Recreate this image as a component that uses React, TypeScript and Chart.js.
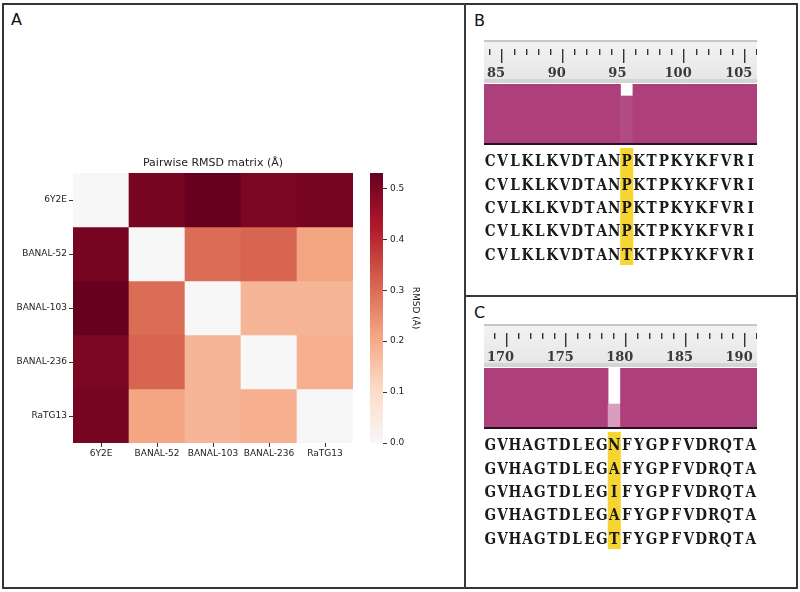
import React, { useEffect, useRef } from 'react';
import { Chart, registerables } from 'chart.js';

Chart.register(...registerables);

// ---------------- Panel A data ----------------
const structures = ['6Y2E', 'BANAL-52', 'BANAL-103', 'BANAL-236', 'RaTG13'];
const rmsd6Y2E = [0, 0.51, 0.53, 0.5, 0.51];
const rmsdBANAL52 = [0.51, 0, 0.3, 0.31, 0.21];
const rmsdBANAL103 = [0.53, 0.3, 0, 0.18, 0.18];
const rmsdBANAL236 = [0.5, 0.31, 0.18, 0, 0.19];
const rmsdRaTG13 = [0.51, 0.21, 0.18, 0.19, 0];
const rmsdRows = [rmsd6Y2E, rmsdBANAL52, rmsdBANAL103, rmsdBANAL236, rmsdRaTG13];
const colorbarMax = 0.53;
const colorbarTicks = [0, 0.1, 0.2, 0.3, 0.4, 0.5];
const heatmapTitle = 'Pairwise RMSD matrix (Å)';
const colorbarTitle = 'RMSD (Å)';

// ---------------- Panel B data ----------------
const residuesB = [85, 86, 87, 88, 89, 90, 91, 92, 93, 94, 95, 96, 97, 98, 99, 100, 101, 102, 103, 104, 105, 106];
const sequencesB = [
  'CVLKLKVDTANPKTPKYKFVRI',
  'CVLKLKVDTANPKTPKYKFVRI',
  'CVLKLKVDTANPKTPKYKFVRI',
  'CVLKLKVDTANPKTPKYKFVRI',
  'CVLKLKVDTANTKTPKYKFVRI',
];
const consensusB = [100, 100, 100, 100, 100, 100, 100, 100, 100, 100, 100, 80, 100, 100, 100, 100, 100, 100, 100, 100, 100, 100];
const highlightB = 96;

// ---------------- Panel C data ----------------
const residuesC = [170, 171, 172, 173, 174, 175, 176, 177, 178, 179, 180, 181, 182, 183, 184, 185, 186, 187, 188, 189, 190, 191];
const sequencesC = [
  'GVHAGTDLEGNFYGPFVDRQTA',
  'GVHAGTDLEGAFYGPFVDRQTA',
  'GVHAGTDLEGIFYGPFVDRQTA',
  'GVHAGTDLEGAFYGPFVDRQTA',
  'GVHAGTDLEGTFYGPFVDRQTA',
];
const consensusC = [100, 100, 100, 100, 100, 100, 100, 100, 100, 100, 40, 100, 100, 100, 100, 100, 100, 100, 100, 100, 100, 100];
const highlightC = 180;

// ---------------- styles ----------------
const SANS = '"DejaVu Sans", sans-serif';
const SERIF = '"DejaVu Serif", serif';
const TEXT = '#222222';
const rdbuStops = ['#f7f7f7', '#fddbc7', '#f4a582', '#d6604d', '#b2182b', '#67001f'];

function hexToRgb(h: string) {
  const n = parseInt(h.slice(1), 16);
  return [(n >> 16) & 255, (n >> 8) & 255, n & 255];
}
function rdbu(t: number) {
  const tt = Math.max(0, Math.min(1, t)) * (rdbuStops.length - 1);
  const i = Math.min(rdbuStops.length - 2, Math.floor(tt));
  const f = tt - i;
  const a = hexToRgb(rdbuStops[i]);
  const b = hexToRgb(rdbuStops[i + 1]);
  const c = a.map((v, k) => Math.round(v + (b[k] - v) * f));
  return `rgb(${c[0]},${c[1]},${c[2]})`;
}
function consensusColor(v: number) {
  if (v >= 100) return '#ad3f7a';
  if (v >= 60) return '#b24a83';
  return '#d89dbf';
}

const baseOpts = {
  responsive: false,
  animation: false as const,
  events: [] as any[],
};

// ---------------- chart configs ----------------
function heatmapConfig(): any {
  const datasets = rmsdRows.map((row, r) => ({
    label: structures[r],
    data: row.map(() => [r, r + 1]),
    backgroundColor: row.map((v) => rdbu(v / colorbarMax)),
    grouped: false,
    barPercentage: 1,
    categoryPercentage: 1,
    borderWidth: 0,
  }));
  return {
    type: 'bar',
    data: { labels: structures, datasets },
    options: {
      ...baseOpts,
      layout: { padding: { left: 0, right: 5, top: 0, bottom: 0 }, autoPadding: false },
      plugins: {
        legend: { display: false },
        tooltip: { enabled: false },
        title: {
          display: true,
          text: heatmapTitle,
          fullSize: false,
          color: TEXT,
          font: { family: SANS, size: 11, weight: 'normal' },
          padding: { top: 16.8, bottom: 3 },
        },
      },
      scales: {
        x: {
          type: 'category',
          offset: true,
          grid: { offset: false, drawOnChartArea: false, drawTicks: true, tickLength: 4, color: '#333' },
          border: { display: false },
          ticks: { color: TEXT, font: { family: SANS, size: 9 }, padding: 1, maxRotation: 0, autoSkip: false },
          afterFit: (s: any) => { s.height = 27; },
        },
        y: {
          type: 'linear',
          min: 0,
          max: structures.length,
          reverse: true,
          afterBuildTicks: (s: any) => { s.ticks = structures.map((_, i) => ({ value: i + 0.5 })); },
          grid: { drawOnChartArea: false, drawTicks: true, tickLength: 4, color: '#333' },
          border: { display: false },
          ticks: {
            color: TEXT,
            font: { family: SANS, size: 9 },
            padding: 2,
            autoSkip: false,
            callback: (v: any) => structures[Math.floor(Number(v))],
          },
          afterFit: (s: any) => { s.width = 65; },
        },
      },
    },
  };
}

function colorbarConfig(): any {
  return {
    type: 'bar',
    data: {
      labels: [''],
      datasets: [{
        data: [[0, colorbarMax]],
        barPercentage: 1,
        categoryPercentage: 1,
        borderWidth: 0,
        backgroundColor: (c: any) => {
          const chart = c.chart;
          if (!chart.chartArea || !chart.scales.y) return rdbuStops[0];
          const y0 = chart.scales.y.getPixelForValue(0);
          const y1 = chart.scales.y.getPixelForValue(colorbarMax);
          const g = chart.ctx.createLinearGradient(0, y0, 0, y1);
          rdbuStops.forEach((col, i) => g.addColorStop(i / (rdbuStops.length - 1), col));
          return g;
        },
      }],
    },
    options: {
      ...baseOpts,
      layout: { padding: { left: 10, right: 0, top: 33, bottom: 27 }, autoPadding: false },
      plugins: { legend: { display: false }, tooltip: { enabled: false } },
      scales: {
        x: { display: false },
        y: {
          position: 'right',
          min: 0,
          max: colorbarMax,
          afterBuildTicks: (s: any) => { s.ticks = colorbarTicks.map((v) => ({ value: v })); },
          grid: { drawOnChartArea: false, drawTicks: true, tickLength: 4, color: '#333' },
          border: { display: false },
          ticks: {
            color: TEXT,
            font: { family: SANS, size: 9 },
            padding: 3,
            callback: (v: any) => Number(v).toFixed(1),
          },
          title: {
            display: true,
            text: colorbarTitle,
            color: TEXT,
            font: { family: SANS, size: 9 },
            padding: { top: 0, bottom: 0 },
          },
          afterFit: (s: any) => { s.width = 38; },
        },
      },
    },
  };
}

function rulerConfig(residues: number[]): any {
  const isMajor = (c: any) => c.type === 'tick' && (residues[c.index] - 1) % 5 === 0;
  return {
    type: 'bar',
    data: { labels: residues.map(String), datasets: [] },
    options: {
      ...baseOpts,
      layout: { padding: { left: 0, right: 0, top: 10, bottom: 0 }, autoPadding: false },
      plugins: { legend: { display: false }, tooltip: { enabled: false } },
      scales: {
        x: {
          type: 'category',
          offset: true,
          grid: {
            offset: true,
            drawOnChartArea: true,
            drawTicks: true,
            tickLength: 8,
            color: '#333333',
            lineWidth: 1.4,
            tickWidth: 1.4,
            tickColor: (c: any) => (isMajor(c) ? '#333333' : 'rgba(0,0,0,0)'),
          },
          border: { display: false },
          ticks: {
            autoSkip: false,
            maxRotation: 0,
            padding: 3,
            color: '#3a3a3a',
            font: { family: SERIF, size: 13, weight: 'bold' },
            callback: (_v: any, i: number) => (residues[i] % 5 === 0 ? String(residues[i]) : ''),
          },
          afterFit: (s: any) => { s.height = 29; },
        },
        y: { display: false },
      },
    },
  };
}

function histConfig(residues: number[], consensus: number[]): any {
  return {
    type: 'bar',
    data: {
      labels: residues.map(String),
      datasets: [{
        data: consensus,
        backgroundColor: consensus.map(consensusColor),
        barPercentage: 1,
        categoryPercentage: 1,
        borderWidth: 0,
      }],
    },
    options: {
      ...baseOpts,
      layout: { padding: { left: 0, right: 0, top: 0, bottom: 2 }, autoPadding: false },
      plugins: { legend: { display: false }, tooltip: { enabled: false } },
      scales: {
        x: {
          type: 'category',
          offset: true,
          grid: { display: false, drawTicks: false },
          ticks: { display: false },
          border: { display: true, color: '#2a0f1f', width: 2, z: 1 },
        },
        y: { display: false, min: 0, max: 100 },
      },
    },
  };
}

const lettersPlugin = {
  id: 'letters',
  afterDatasetsDraw(chart: any) {
    const ds = chart.data.datasets[1];
    const meta = chart.getDatasetMeta(1);
    const ctx = chart.ctx;
    ctx.save();
    ctx.font = `bold 17px ${SERIF}`;
    ctx.fillStyle = '#1a1a1a';
    ctx.textAlign = 'center';
    ctx.textBaseline = 'middle';
    meta.data.forEach((el: any, i: number) => {
      const p = ds.data[i];
      ctx.save();
      ctx.translate(el.x, el.y + 2);
      ctx.scale(0.8, 1);
      ctx.fillText(p.letter, 0, 0);
      ctx.restore();
    });
    ctx.restore();
  },
};

function lettersConfig(residues: number[], sequences: string[], highlight: number): any {
  const labels = residues.map(String);
  const points: any[] = [];
  sequences.forEach((seq, r) => {
    residues.forEach((res, i) => {
      points.push({ x: String(res), y: r + 0.5, letter: seq[i] });
    });
  });
  return {
    type: 'bar',
    data: {
      labels,
      datasets: [
        {
          type: 'bar',
          data: residues.map((res) => (res === highlight ? [0, sequences.length] : null)),
          backgroundColor: '#f7d531',
          barPercentage: 1,
          categoryPercentage: 1,
          borderWidth: 0,
        },
        {
          type: 'scatter',
          data: points,
          pointRadius: 0,
          pointHoverRadius: 0,
          showLine: false,
        },
      ],
    },
    options: {
      ...baseOpts,
      layout: { padding: 0, autoPadding: false },
      plugins: { legend: { display: false }, tooltip: { enabled: false } },
      scales: {
        x: { type: 'category', offset: true, display: false },
        y: { type: 'linear', display: false, min: 0, max: sequences.length, reverse: true },
      },
    },
    plugins: [lettersPlugin],
  };
}

// ---------------- components ----------------
function ChartCanvas(props: { left: number; top: number; width: number; height: number; make: () => any; bg?: string }) {
  const ref = useRef<HTMLCanvasElement>(null);
  useEffect(() => {
    const chart = new Chart(ref.current as HTMLCanvasElement, props.make());
    return () => chart.destroy();
  }, []);
  return (
    <canvas
      ref={ref}
      width={props.width}
      height={props.height}
      style={{
        position: 'absolute',
        left: props.left,
        top: props.top,
        width: props.width,
        height: props.height,
        background: props.bg,
        display: 'block',
      }}
    />
  );
}

const rulerBg =
  'linear-gradient(to bottom, #ffffff 0px, #ffffff 1px, #c7c7c7 1px, #c7c7c7 3px, #f2f2f2 3px, #e7e7e7 40px, #d4d4d4 40px, #d4d4d4 44px, #ffffff 44px)';

function AlignmentPanel(props: { dy: number; residues: number[]; sequences: string[]; consensus: number[]; highlight: number }) {
  const { dy } = props;
  return (
    <>
      <ChartCanvas left={484} top={39 + dy} width={273} height={45} bg={rulerBg} make={() => rulerConfig(props.residues)} />
      <ChartCanvas left={484} top={84 + dy} width={273} height={62} make={() => histConfig(props.residues, props.consensus)} />
      <ChartCanvas left={484} top={148 + dy} width={273} height={117} make={() => lettersConfig(props.residues, props.sequences, props.highlight)} />
    </>
  );
}

function PanelLabel(props: { x: number; y: number; text: string }) {
  return (
    <div
      style={{
        position: 'absolute',
        left: props.x,
        top: props.y,
        fontFamily: SANS,
        fontSize: 16,
        lineHeight: '16px',
        color: '#111',
      }}
    >
      {props.text}
    </div>
  );
}

export default function App() {
  useEffect(() => {
    document.body.style.margin = '0';
  }, []);
  return (
    <div style={{ position: 'absolute', left: 0, top: 0, width: 800, height: 592, background: '#ffffff', overflow: 'hidden' }}>
      <div
        style={{
          position: 'absolute',
          left: 2,
          top: 3,
          width: 796,
          height: 586,
          border: '2px solid #333',
          boxSizing: 'border-box',
        }}
      />
      <div style={{ position: 'absolute', left: 464, top: 3, width: 1.5, height: 586, background: '#3a3a3a' }} />
      <div style={{ position: 'absolute', left: 465, top: 295, width: 332, height: 1.5, background: '#3a3a3a' }} />

      <PanelLabel x={11} y={12} text="A" />
      <PanelLabel x={474} y={13} text="B" />
      <PanelLabel x={474} y={305} text="C" />

      <ChartCanvas left={8} top={140} width={350} height={330} make={heatmapConfig} />
      <ChartCanvas left={360} top={140} width={61} height={330} make={colorbarConfig} />

      <AlignmentPanel dy={0} residues={residuesB} sequences={sequencesB} consensus={consensusB} highlight={highlightB} />
      <AlignmentPanel dy={284} residues={residuesC} sequences={sequencesC} consensus={consensusC} highlight={highlightC} />
    </div>
  );
}
